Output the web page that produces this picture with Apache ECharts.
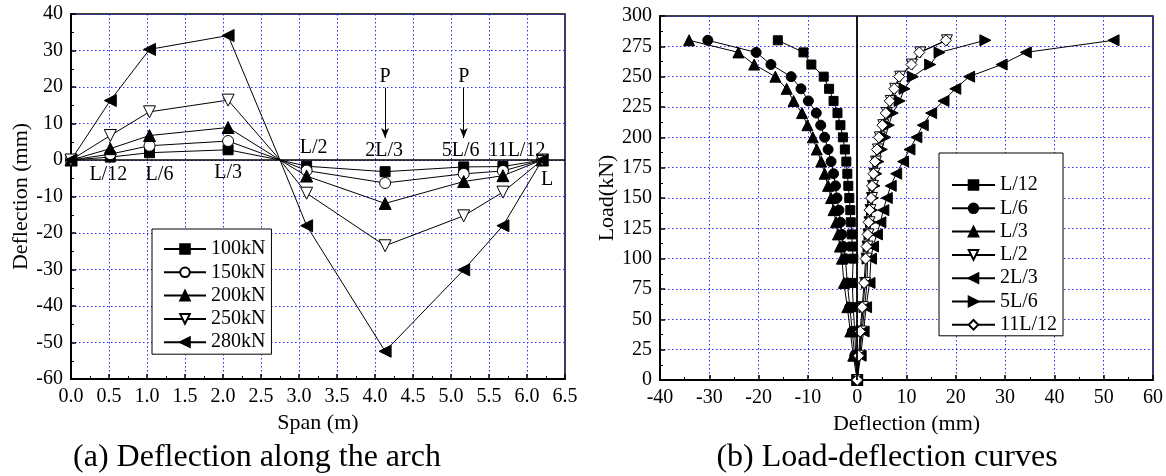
<!DOCTYPE html>
<html><head><meta charset="utf-8">
<script src="https://cdn.jsdelivr.net/npm/echarts@6/dist/echarts.min.js"></script>
<style>html,body{margin:0;padding:0;background:#fff}#c{width:1166px;height:476px}</style>
</head><body><div id="c"></div>
<script>
// ---- (a) deflection along the arch ----
var spanX = [0, 0.517, 1.033, 2.067, 2.75, 3.1, 4.133, 5.167, 5.683, 6.2];
var loadNames = ['100kN', '150kN', '200kN', '250kN', '280kN'];
var d100 = [0, 0.8, 2.0, 2.8, 0, -1.7, -3.2, -1.9, -1.8, 0];
var d150 = [0, 1.6, 3.9, 5.2, 0, -2.9, -6.3, -3.8, -3.0, 0];
var d200 = [0, 3.1, 6.7, 8.9, 0, -4.4, -11.9, -5.9, -4.3, 0];
var d250 = [0, 6.7, 13.2, 16.4, 0, -9.1, -23.5, -15.3, -8.8, 0];
var d280 = [0, 16.3, 30.3, 34.1, 0, -18.0, -52.4, -30.1, -18.0, 0];
var spanLabels = ['L/12', 'L/6', 'L/3', 'L/2', '2L/3', '5L/6', '11L/12', 'L'];

// ---- (b) load-deflection curves ----
var loads = [0, 20, 40, 60, 80, 100, 110, 120, 130, 140, 150, 160, 170, 180, 190, 200, 210, 220, 230, 240, 250, 260, 270, 280];
var pointNames = ['L/12', 'L/6', 'L/3', 'L/2', '2L/3', '5L/6', '11L/12'];
var vL12 = [0, -0.3, -0.5, -0.8, -1.0, -0.8, -1.0, -1.1, -1.3, -1.4, -1.6, -1.8, -2.0, -2.2, -2.5, -2.9, -3.4, -4.0, -4.8, -5.7, -6.8, -9.3, -10.9, -16.1];
var vL6 = [0, -0.5, -1.0, -1.5, -2.0, -2.4, -2.8, -3.1, -3.4, -3.7, -4.1, -4.4, -4.8, -5.3, -5.9, -6.6, -7.4, -8.3, -9.9, -11.4, -13.4, -17.5, -20.5, -30.3];
var vL3 = [0, -0.8, -1.4, -2.0, -2.7, -3.1, -3.5, -3.9, -4.3, -4.8, -5.3, -5.9, -6.6, -7.3, -8.2, -9.0, -10.1, -11.2, -12.9, -14.3, -16.6, -20.9, -24.1, -34.1];
var vL2 = [0, 0.4, 0.8, 1.2, 1.6, 1.9, 2.1, 2.3, 2.5, 2.7, 3.0, 3.2, 3.5, 3.8, 4.2, 4.6, 5.3, 6.0, 6.8, 7.7, 8.7, 11.1, 12.8, 18.2];
var v2L3 = [0, 0.7, 1.3, 1.8, 2.5, 2.8, 3.2, 4.0, 4.7, 5.3, 6.0, 6.8, 7.9, 9.3, 10.6, 12.0, 13.3, 15.0, 17.5, 19.9, 22.7, 29.3, 34.2, 52.0];
var v5L6 = [0, 0.5, 1.0, 1.5, 2.0, 2.1, 2.3, 2.5, 2.8, 3.0, 3.2, 3.5, 3.9, 4.3, 5.0, 5.7, 6.4, 7.2, 8.6, 9.6, 11.3, 14.8, 16.7, 26.0];
var v11L12 = [0, 0.3, 0.6, 1.0, 1.4, 1.7, 1.9, 2.1, 2.3, 2.5, 2.8, 3.0, 3.3, 3.6, 4.0, 4.4, 5.1, 5.8, 6.6, 7.5, 8.5, 11.0, 12.6, 18.0];

var FONT = 'Liberation Serif';
var GRIDC = '#2b2bff';

var chart = echarts.init(document.getElementById('c'), null, {renderer: 'canvas'});

function axisCommon() {
  return {
    axisLine: {show: true, onZero: false, lineStyle: {color: '#000', width: 2}},
    axisTick: {show: true, inside: true, length: 5, lineStyle: {color: '#000', width: 1.5}},
    minorTick: {show: true, splitNumber: 2, length: 3, lineStyle: {color: '#000', width: 1}},
    axisLabel: {color: '#000', fontFamily: FONT, fontSize: 20, margin: 8},
    splitLine: {show: true, lineStyle: {color: GRIDC, type: [1.5, 2.5], width: 1}},
    nameTextStyle: {color: '#000', fontFamily: FONT, fontSize: 22},
    nameLocation: 'middle'
  };
}
function merge(a, b) { for (var k in b) a[k] = b[k]; return a; }

var aSeriesVals = [d100, d150, d200, d250, d280];
var aSym = [
  {symbol: 'rect', size: 10, fill: '#000', rot: 0},
  {symbol: 'circle', size: 11, fill: '#fff', rot: 0},
  {symbol: 'triangle', size: 12, fill: '#000', rot: 0},
  {symbol: 'triangle', size: 12, fill: '#fff', rot: 180},
  {symbol: 'triangle', size: 12, fill: '#000', rot: 90}
];
var labelStyle = {show: true, color: '#000', fontFamily: FONT, fontSize: 20, position: 'inside'};

var series = [];
aSeriesVals.forEach(function (vals, i) {
  var s = aSym[i];
  var data = vals.map(function (v, j) {
    var item = {value: [spanX[j], v]};
    if (j === 4) item.symbol = 'none';
    return item;
  });
  series.push({
    name: loadNames[i], type: 'line', xAxisIndex: 0, yAxisIndex: 0, data: data,
    symbol: s.symbol, symbolSize: s.size, symbolRotate: s.rot, showAllSymbol: true,
    itemStyle: {color: s.fill, borderColor: '#000', borderWidth: 1},
    lineStyle: {color: '#000', width: 1}, emphasis: {disabled: true}, z: 3, animation: false
  });
});
var offs = [[-2, 15], [10, 15], [0, 13], [7, -12], [-1, -9], [-3, -9], [14, -9], [5, 20]];
var annIdx = [1, 2, 3, 5, 6, 7, 8, 9];
series[0].markLine = {
  silent: true, symbol: 'none', animation: false,
  lineStyle: {color: '#000', width: 1.5, type: 'solid'}, label: {show: false},
  data: [{yAxis: 0}]
};
series[0].markPoint = {
  silent: true, animation: false, symbol: 'rect', symbolSize: 1, itemStyle: {color: 'rgba(0,0,0,0)'},
  data: spanLabels.map(function (t, k) {
    return {coord: [spanX[annIdx[k]], 0], label: merge(merge({}, labelStyle), {formatter: t, offset: offs[k]})};
  }).concat([
    {coord: [spanX[6], 22.7], label: merge(merge({}, labelStyle), {formatter: 'P'})},
    {coord: [spanX[7], 22.7], label: merge(merge({}, labelStyle), {formatter: 'P'})}
  ])
};
series[1].markLine = {
  silent: true, symbol: ['none', 'arrow'], symbolSize: [6, 10], animation: false,
  lineStyle: {color: '#000', width: 1, type: 'solid'}, label: {show: false},
  data: [
    [{coord: [spanX[6], 19.8]}, {coord: [spanX[6], 6.0]}],
    [{coord: [spanX[7], 19.8]}, {coord: [spanX[7], 6.0]}]
  ]
};

var bVals = [vL12, vL6, vL3, vL2, v2L3, v5L6, v11L12];
var bSym = [
  {symbol: 'rect', size: 9, fill: '#000', rot: 0},
  {symbol: 'circle', size: 10, fill: '#000', rot: 0},
  {symbol: 'triangle', size: 11, fill: '#000', rot: 0},
  {symbol: 'triangle', size: 11, fill: '#fff', rot: 180},
  {symbol: 'triangle', size: 11, fill: '#000', rot: 90},
  {symbol: 'triangle', size: 11, fill: '#000', rot: -90},
  {symbol: 'diamond', size: 11, fill: '#fff', rot: 0}
];
bVals.forEach(function (vals, i) {
  var s = bSym[i];
  series.push({
    name: pointNames[i], type: 'line', xAxisIndex: 1, yAxisIndex: 1,
    data: vals.map(function (v, j) { return [v, loads[j]]; }),
    symbol: s.symbol, symbolSize: s.size, symbolRotate: s.rot, showAllSymbol: true,
    itemStyle: {color: s.fill, borderColor: '#000', borderWidth: 1},
    lineStyle: {color: '#000', width: 1}, emphasis: {disabled: true}, z: 3, animation: false
  });
});
series[5].markLine = {
  silent: true, symbol: 'none', animation: false,
  lineStyle: {color: '#000', width: 1.8, type: 'solid'}, label: {show: false},
  data: [{xAxis: 0}]
};

var legendText = {color: '#000', fontFamily: FONT, fontSize: 20, lineHeight: 20};
var option = {
  animation: false,
  backgroundColor: '#fff',
  grid: [
    {left: 71, right: 601, top: 14, bottom: 97, show: true, borderColor: '#000', borderWidth: 1.5, backgroundColor: 'transparent'},
    {left: 660, right: 13, top: 16, bottom: 96, show: true, borderColor: '#000', borderWidth: 1.5, backgroundColor: 'transparent'}
  ],
  xAxis: [
    merge(axisCommon(), {gridIndex: 0, type: 'value', min: 0, max: 6.5, interval: 0.5, name: 'Span (m)', nameGap: 32,
      axisLabel: {color: '#000', fontFamily: FONT, fontSize: 20, margin: 8, formatter: function (v) { return v.toFixed(1); }}}),
    merge(axisCommon(), {gridIndex: 1, type: 'value', min: -40, max: 60, interval: 10, name: 'Deflection (mm)', nameGap: 32})
  ],
  yAxis: [
    merge(axisCommon(), {gridIndex: 0, type: 'value', min: -60, max: 40, interval: 10, name: 'Deflection (mm)', nameGap: 38}),
    merge(axisCommon(), {gridIndex: 1, type: 'value', min: 0, max: 300, interval: 25, name: 'Load(kN)', nameGap: 42})
  ],
  legend: [
    {data: loadNames, orient: 'vertical', left: 152, top: 229, itemWidth: 42, itemHeight: 12, itemGap: 3.3,
      padding: [10, 6, 2, 11], borderColor: '#000', borderWidth: 1, backgroundColor: '#fff', textStyle: legendText,
      selectedMode: false, z: 10},
    {data: pointNames, orient: 'vertical', left: 939, top: 153, itemWidth: 43, itemHeight: 12, itemGap: 3.3,
      padding: [22, 6, 1, 12], borderColor: '#000', borderWidth: 1, backgroundColor: '#fff', textStyle: legendText,
      selectedMode: false, z: 10}
  ],
  graphic: [
    {type: 'text', x: 257, y: 458, style: {text: '(a) Deflection along the arch', font: '32px "Liberation Serif"', fill: '#000', textAlign: 'center', textVerticalAlign: 'middle'}},
    {type: 'text', x: 887, y: 458, style: {text: '(b) Load-deflection curves', font: '32px "Liberation Serif"', fill: '#000', textAlign: 'center', textVerticalAlign: 'middle'}}
  ],
  series: series
};
chart.setOption(option);
</script></body></html>
